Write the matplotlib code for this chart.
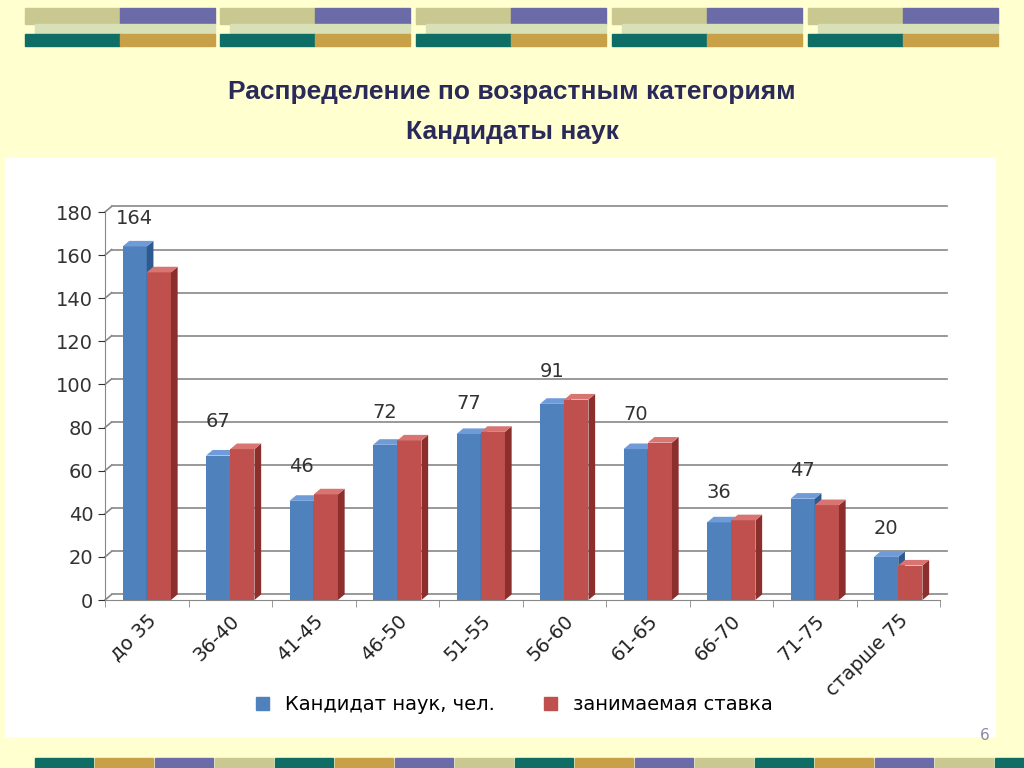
import matplotlib.pyplot as plt
from matplotlib.patches import Rectangle, Polygon
import numpy as np

categories = ['до 35', '36-40', '41-45', '46-50', '51-55', '56-60', '61-65', '66-70', '71-75', 'старше 75']
candidates = [164, 67, 46, 72, 77, 91, 70, 36, 47, 20]
rate = [152, 70, 49, 74, 78, 93, 73, 37, 44, 16]
series_names = ['Кандидат наук, чел.', 'занимаемая ставка']

fig = plt.figure(figsize=(10.24, 7.68), dpi=100)
fig.patch.set_facecolor('#FFFFD0')

W, H = 1024, 768
def frect(x, y, w, h, c):
    fig.patches.append(Rectangle((x / W, 1 - (y + h) / H), w / W, h / H,
                                 transform=fig.transFigure, color=c, zorder=-5))

# decorative strips on top
for x0 in [25, 220, 416, 612, 808]:
    frect(x0, 8, 95, 16, '#C8C890')
    frect(x0 + 95, 8, 95, 16, '#6B6BA8')
    frect(x0 + 10, 24, 180, 10, '#D8E0B8')
    frect(x0, 34, 95, 12, '#0E6E66')
    frect(x0 + 95, 34, 95, 12, '#C8A048')
# bottom strips
cols = ['#0E6E66', '#C8A048', '#6B6BA8', '#C8C890']
for k, x0 in enumerate(range(35, 1024, 60)):
    frect(x0, 758, 58, 10, cols[k % 4])

# white panel
frect(5, 158, 990, 578, 'white')

fig.text(0.5, 1 - 92 / H, 'Распределение по возрастным категориям', ha='center', va='center',
         fontsize=19, fontweight='bold', color='#2A2A5A', family='Liberation Sans')
fig.text(0.5, 1 - 132 / H, 'Кандидаты наук', ha='center', va='center',
         fontsize=19, fontweight='bold', color='#2A2A5A', family='Liberation Sans')
fig.text(985 / W, 1 - 735 / H, '6', ha='center', va='center', fontsize=11, color='#8888AA')

ax = fig.add_axes([105 / W, 1 - 600 / H, 835 / W, 388 / H])
ax.set_zorder(5)
ax.set_facecolor('none')
n = len(categories)
x = np.arange(n)
bw = 0.29
dx, dy = 0.08, 2.6
ax.set_xlim(-0.5, n - 0.5)
ax.set_ylim(0, 180)

for v in range(0, 181, 20):
    ax.plot([-0.5 + dx, n - 0.5 + dx], [v + dy, v + dy], color='#888888', lw=1.2, zorder=1, clip_on=False)
    ax.plot([-0.5, -0.5 + dx], [v, v + dy], color='#888888', lw=1.2, zorder=1, clip_on=False)

def bar3d(x0, h, front, side, top):
    ax.add_patch(Rectangle((x0, 0), bw, h, facecolor=front, zorder=3))
    ax.add_patch(Polygon([(x0 + bw, 0), (x0 + bw + dx, dy), (x0 + bw + dx, h + dy), (x0 + bw, h)],
                         facecolor=side, zorder=3, clip_on=False))
    ax.add_patch(Polygon([(x0, h), (x0 + dx, h + dy), (x0 + bw + dx, h + dy), (x0 + bw, h)],
                         facecolor=top, zorder=3, clip_on=False))

for i in range(n):
    bar3d(x[i] - bw, candidates[i], '#4F81BD', '#2F5A8F', '#6F9BD8')
    bar3d(x[i], rate[i], '#C0504D', '#8C2E2C', '#D87572')
    ax.text(x[i] - bw / 2, max(candidates[i], rate[i]) + dy + 6, str(candidates[i]),
            ha='center', va='bottom', fontsize=14, color='#333333', clip_on=False)

for s in ['top', 'right']:
    ax.spines[s].set_visible(False)
ax.spines['left'].set_color('#888888')
ax.spines['bottom'].set_color('#888888')
ax.set_yticks(range(0, 181, 20))
ax.tick_params(axis='y', labelsize=14, colors='#333333', length=5)
ax.set_xticks(x)
ax.set_xticklabels(categories, rotation=45, ha='right', rotation_mode='anchor', fontsize=14, color='#222222')
ax.tick_params(axis='x', length=0, pad=8)
ax.set_xticks(np.arange(-0.5, n, 1), minor=True)
ax.tick_params(axis='x', which='minor', length=5, color='#888888')

ax.add_patch(Rectangle((0, 0), 0, 0, color='#4F81BD', label=series_names[0]))
ax.add_patch(Rectangle((0, 0), 0, 0, color='#C0504D', label=series_names[1]))
ax.legend(loc='center', bbox_to_anchor=(0.49, -0.27), ncol=2, frameon=False, fontsize=14,
          handlelength=0.7, handleheight=0.7, columnspacing=2.5)

fig.savefig('out.png', dpi=100, facecolor=fig.get_facecolor())
